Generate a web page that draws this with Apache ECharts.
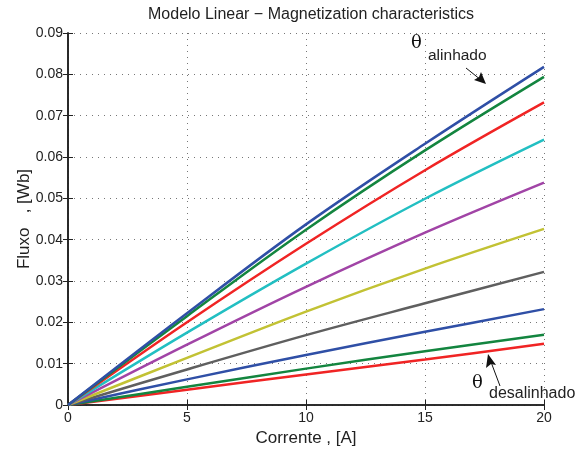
<!DOCTYPE html>
<html>
<head>
<meta charset="utf-8">
<script src="https://cdn.jsdelivr.net/npm/echarts@6/dist/echarts.min.js"></script>
<style>
  html, body { margin: 0; padding: 0; background: #fff; }
  #chart { width: 575px; height: 453px; }
</style>
</head>
<body>
<div id="chart"></div>
<script>
// corrente [A]
var corrente = [0, 5, 10, 15, 20];

// fluxo [Wb], one curve per rotor position, from aligned down to unaligned
var fluxoAlinhado = [0, 0.0222, 0.0437, 0.0632, 0.0818];
var fluxo2 = [0, 0.0215, 0.0424, 0.0616, 0.0794];
var fluxo3 = [0, 0.0200, 0.0390, 0.0568, 0.0732];
var fluxo4 = [0, 0.0175, 0.0342, 0.0499, 0.0642];
var fluxo5 = [0, 0.0146, 0.0286, 0.0417, 0.0538];
var fluxo6 = [0, 0.0114, 0.0226, 0.0330, 0.0426];
var fluxo7 = [0, 0.0086, 0.0169, 0.0246, 0.0322];
var fluxo8 = [0, 0.0062, 0.0121, 0.0177, 0.0232];
var fluxo9 = [0, 0.0044, 0.0088, 0.0130, 0.0170];
var fluxoDesalinhado = [0, 0.0037, 0.0074, 0.0110, 0.0148];

var curvas = [fluxoAlinhado, fluxo2, fluxo3, fluxo4, fluxo5, fluxo6, fluxo7, fluxo8, fluxo9, fluxoDesalinhado];
var cores = ['#2f4fa6', '#13853f', '#f02424', '#22bfc2', '#a144a6', '#c2c234', '#5f5f5f', '#2f4fa6', '#13853f', '#f02424'];

var yTicks = [0, 0.01, 0.02, 0.03, 0.04, 0.05, 0.06, 0.07, 0.08, 0.09];
var xTicks = [0, 5, 10, 15, 20];

var fonte = 'Liberation Sans, Arial, sans-serif';

var series = curvas.map(function (c, i) {
  return {
    type: 'line',
    data: corrente.map(function (x, k) { return [x, c[k]]; }),
    smooth: 0.35,
    symbol: 'none',
    lineStyle: { color: cores[i], width: 2.5 },
    z: 10 - i
  };
});

var eixoBase = {
  axisLine: { show: true, lineStyle: { color: '#222', width: 1.6 } },
  axisTick: { show: true, inside: true, length: 5, lineStyle: { color: '#222' } }
};

var grade = { show: true, lineStyle: { color: '#777', type: [1, 5], width: 1 } };

var myChart = echarts.init(document.getElementById('chart'));

myChart.setOption({
  animation: false,
  title: {
    text: 'Modelo Linear \u2212 Magnetization characteristics',
    left: 306, top: 2, textAlign: 'center',
    textStyle: { fontSize: 16, fontWeight: 'normal', color: '#222', fontFamily: fonte }
  },
  grid: { left: 68, right: 31, top: 33, bottom: 48 },
  xAxis: [
    Object.assign({
      type: 'value', min: 0, max: 20, interval: 5,
      name: 'Corrente , [A]', nameLocation: 'middle', nameGap: 25,
      nameTextStyle: { fontSize: 17, color: '#222', fontFamily: fonte },
      axisLabel: {
        fontSize: 14, color: '#222', fontFamily: fonte, margin: 6,
        formatter: function (v) { return xTicks.indexOf(v) >= 0 ? String(v) : ''; }
      },
      splitLine: grade
    }, eixoBase),
    Object.assign({
      type: 'value', min: 0, max: 20, interval: 5, position: 'top',
      axisLabel: { show: false }, splitLine: { show: false }
    }, eixoBase)
  ],
  yAxis: [
    Object.assign({
      type: 'value', min: 0, max: 0.09, interval: 0.01,
      name: 'Fluxo   , [Wb]', nameLocation: 'middle', nameGap: 35,
      nameMoveOverlap: false,
      nameTextStyle: { fontSize: 17, color: '#222', fontFamily: fonte },
      axisLabel: {
        fontSize: 14, color: '#222', fontFamily: fonte, margin: 5,
        formatter: function (v) {
          var t = yTicks.find(function (y) { return Math.abs(y - v) < 1e-9; });
          if (t === undefined) return '';
          return t === 0 ? '0' : t.toFixed(2);
        }
      },
      splitLine: grade
    }, eixoBase),
    Object.assign({
      type: 'value', min: 0, max: 0.09, interval: 0.01, position: 'right',
      axisLabel: { show: false }, splitLine: { show: false }
    }, eixoBase)
  ],
  series: series,
  graphic: [
    { type: 'text', left: 411, top: 34, z: 100,
      style: { text: '\u03b8', fontSize: 18, fontFamily: 'DejaVu Serif, serif', fill: '#111' } },
    { type: 'text', left: 428, top: 48, z: 100,
      style: { text: 'alinhado', fontSize: 15.5, fontFamily: fonte, fill: '#222' } },
    { type: 'line', z: 100,
      shape: { x1: 466, y1: 68, x2: 481, y2: 80 },
      style: { stroke: '#111', lineWidth: 1 } },
    { type: 'polygon', z: 100,
      shape: { points: [[486, 84], [474, 80], [479, 77], [481, 72]] },
      style: { fill: '#111' } },
    { type: 'text', left: 472, top: 374, z: 100,
      style: { text: '\u03b8', fontSize: 18, fontFamily: 'DejaVu Serif, serif', fill: '#111' } },
    { type: 'text', left: 489, top: 386, z: 100,
      style: { text: 'desalinhado', fontSize: 16, fontFamily: fonte, fill: '#222' } },
    { type: 'line', z: 100,
      shape: { x1: 500, y1: 386, x2: 491, y2: 362 },
      style: { stroke: '#111', lineWidth: 1 } },
    { type: 'polygon', z: 100,
      shape: { points: [[488, 354], [496, 365], [491, 364], [486, 368]] },
      style: { fill: '#111' } }
  ]
});
</script>
</body>
</html>
